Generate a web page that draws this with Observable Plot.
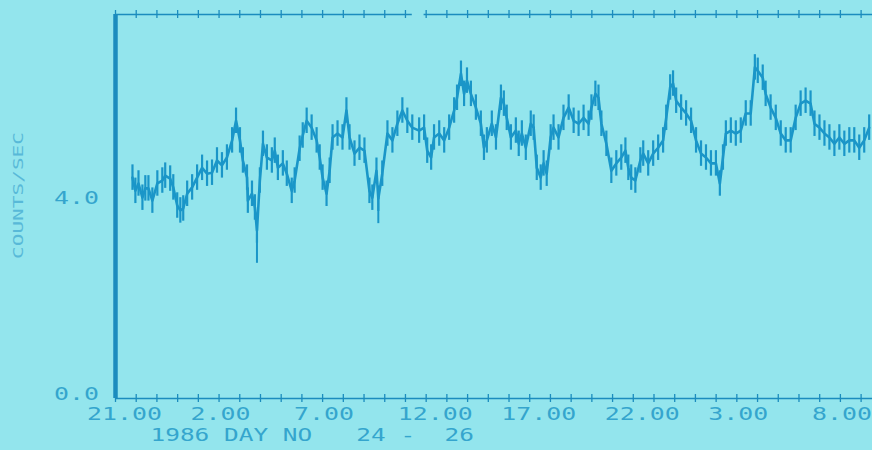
<!DOCTYPE html>
<html><head><meta charset="utf-8">
<script src="https://cdn.jsdelivr.net/npm/d3@7"></script>
<script src="https://cdn.jsdelivr.net/npm/@observablehq/plot@0.6"></script>
<style>
html,body{margin:0;padding:0;background:#93e5ed;}
#chart{width:872px;height:450px;overflow:hidden}
svg text{white-space:pre}
</style></head><body><div id="chart"></div>
<script>
// hours since 21:00 (day 24), count rate (counts/sec)
const hours = [0.82,0.96,1.11,1.30,1.44,1.59,1.78,2.02,2.26,2.40,2.64,2.79,2.98,3.13,3.27,3.46,3.70,3.94,4.18,4.42,4.66,4.90,5.14,5.38,5.63,5.82,6.01,6.15,6.35,6.39,6.59,6.73,6.83,6.97,7.12,7.31,7.55,7.69,7.84,8.08,8.27,8.51,8.65,8.89,9.04,9.23,9.47,9.71,9.86,10.00,10.19,10.34,10.48,10.72,10.96,11.15,11.30,11.54,11.78,12.02,12.26,12.40,12.60,12.69,12.88,13.13,13.37,13.61,13.85,14.09,14.33,14.66,14.90,15.05,15.24,15.38,15.63,15.87,16.11,16.35,16.49,16.68,16.83,16.97,17.16,17.40,17.64,17.79,17.93,18.17,18.37,18.61,18.75,18.89,19.09,19.33,19.47,19.62,19.81,20.05,20.19,20.34,20.53,20.67,20.82,21.01,21.15,21.39,21.63,21.88,22.12,22.36,22.60,22.84,22.98,23.17,23.32,23.46,23.70,23.94,24.18,24.42,24.62,24.76,24.90,25.10,25.34,25.48,25.72,25.96,26.20,26.44,26.59,26.78,26.92,27.07,27.31,27.55,27.79,28.03,28.27,28.51,28.75,28.99,29.18,29.33,29.47,29.71,29.95,30.19,30.43,30.67,30.87,31.01,31.25,31.39,31.63,31.88,32.12,32.36,32.60,32.84,33.08,33.32,33.56,33.75,33.99,34.23,34.47,34.71,34.95,35.19,35.43,35.67,35.91,36.15,36.39];
const counts = [4.51,4.24,4.39,4.10,4.29,4.29,4.04,4.39,4.45,4.55,4.49,4.31,3.94,3.84,3.88,4.18,4.31,4.51,4.71,4.59,4.61,4.86,4.76,4.92,5.27,5.67,5.27,4.86,4.51,4.04,4.18,3.90,3.43,4.45,5.20,4.92,4.86,5.06,4.71,4.80,4.59,4.24,4.45,5.10,5.37,5.67,5.53,5.27,4.92,4.51,4.18,4.65,5.33,5.41,5.33,5.88,5.33,5.00,5.12,5.06,4.24,4.10,4.65,4.08,4.59,5.41,5.27,5.61,5.88,5.67,5.53,5.47,5.53,5.06,4.92,5.33,5.41,5.27,5.53,5.88,6.14,6.63,6.22,6.49,6.22,5.94,5.61,5.12,5.27,5.61,5.33,6.14,6.02,5.73,5.33,5.47,5.20,5.41,5.12,5.61,5.53,4.71,4.51,4.80,4.59,5.33,5.53,5.33,5.73,5.94,5.67,5.61,5.73,5.61,5.94,6.22,6.14,5.61,5.20,4.65,4.80,4.92,5.06,4.71,4.51,4.45,4.86,5.00,4.80,5.00,5.12,5.27,5.73,6.35,6.43,6.08,5.94,5.82,5.67,5.27,5.00,4.92,4.80,4.80,4.39,4.92,5.41,5.47,5.41,5.47,5.82,5.82,6.76,6.69,6.55,6.22,5.94,5.73,5.41,5.27,5.27,5.73,6.02,6.08,6.02,5.61,5.53,5.41,5.33,5.20,5.33,5.20,5.27,5.27,5.12,5.27,5.53];
const ERR = 0.26;          // typical error-bar half length
const spikeHours = [6.83, 12.69];
const spikeLows = [2.76, 3.57];
const xTickHours = [0,5,10,15,20,25,30,35];
const xTickLabels = ["21.00","2.00","7.00","12.00","17.00","22.00","3.00","8.00"];
const yTickValues = [0,4];
const yTickLabels = ["0.0","4.0"];
const yTitle = "COUNTS/SEC";
const xTitle = "1986 DAY NO   24 -  26";
const Y_TOP = 7.84, X_END = 36.55;
const minorTickHours = d3.range(0, 37);
const topSegments = [[0,14.33],[14.9,X_END]];

const data = hours.map((h,i)=>({h, v: counts[i]}));
const spikes = spikeHours.map((h,i)=>({h, lo: spikeLows[i]}));

const LINE = "#1a96c8", AXIS = "#1b8cbe", TXT = "#35a5cd", TXT2 = "#58b9d8";
const FONT = "DejaVu Sans Mono";

const plot = Plot.plot({
  width: 872, height: 450,
  marginLeft: 115, marginRight: 0, marginTop: 14, marginBottom: 52,
  style: {background: "transparent", fontFamily: FONT, overflow: "visible"},
  x: {domain: [0, X_END], axis: null},
  y: {domain: [0, Y_TOP], axis: null},
  marks: [
    // error bars
    Plot.ruleX(data, {x: "h", y1: d=>d.v-ERR, y2: d=>d.v+ERR, stroke: LINE, strokeWidth: 2.2}),
    Plot.ruleX(spikes, {x: "h", y1: "lo", y2: d=>d.lo+0.6, stroke: LINE, strokeWidth: 2}),
    Plot.line(data, {x: "h", y: "v", stroke: LINE, strokeWidth: 2.6}),
    // bottom axis
    Plot.ruleY([0], {stroke: AXIS, strokeWidth: 1.5}),
    Plot.ruleX(minorTickHours, {x: d=>d, y1: ()=>0, y2: ()=>0, insetTop: -4, insetBottom: -4, stroke: AXIS, strokeWidth: 1.3}),
    // top axis (with gap)
    Plot.ruleY(topSegments, {y: ()=>Y_TOP, x1: d=>d[0], x2: d=>d[1], stroke: AXIS, strokeWidth: 1.5}),
    Plot.ruleX(minorTickHours.filter(h=>h<14.33||h>14.9), {x: d=>d, y1: ()=>Y_TOP, y2: ()=>Y_TOP, insetTop: -4, insetBottom: -4, stroke: AXIS, strokeWidth: 1.3}),
    // left axis
    Plot.ruleX([0], {y1: ()=>0, y2: ()=>Y_TOP, stroke: AXIS, strokeWidth: 4.5}),
    // labels
    Plot.text(xTickHours, {x: d=>d, y: ()=>0, text: (d,i)=>xTickLabels[i], textAnchor: "start", dx: -28.5, dy: 16, fontSize: 17, fill: TXT, fontFamily: FONT}),
    Plot.text(yTickValues, {x: ()=>0, y: d=>d, text: (d,i)=>yTickLabels[i], textAnchor: "end", dx: -16.5, dy: -4, fontSize: 17, fill: TXT, fontFamily: FONT}),
    Plot.text([xTitle], {frameAnchor: "bottom-left", text: d=>d, textAnchor: "start", dx: 35, dy: 42, fontSize: 17, fill: TXT, fontFamily: FONT}),
    Plot.text([yTitle], {frameAnchor: "left", text: d=>d, rotate: -90, textAnchor: "middle", dx: -97, dy: -11, fontSize: 14, fill: TXT2, fontFamily: FONT})
  ]
});
// wide plotter-style lettering: stretch each label to its cell advance
d3.select(plot).selectAll("text").each(function() {
  const t = this.textContent;
  let adv = null;
  if (xTickLabels.includes(t) || yTickLabels.includes(t)) adv = 15;
  else if (t === xTitle) adv = 14.7;
  else if (t === yTitle) adv = 12.7;
  if (adv) {
    this.setAttribute("textLength", (t.length * adv).toFixed(1));
    this.setAttribute("lengthAdjust", "spacingAndGlyphs");
  }
});
document.getElementById("chart").appendChild(plot);
</script>
</body></html>
